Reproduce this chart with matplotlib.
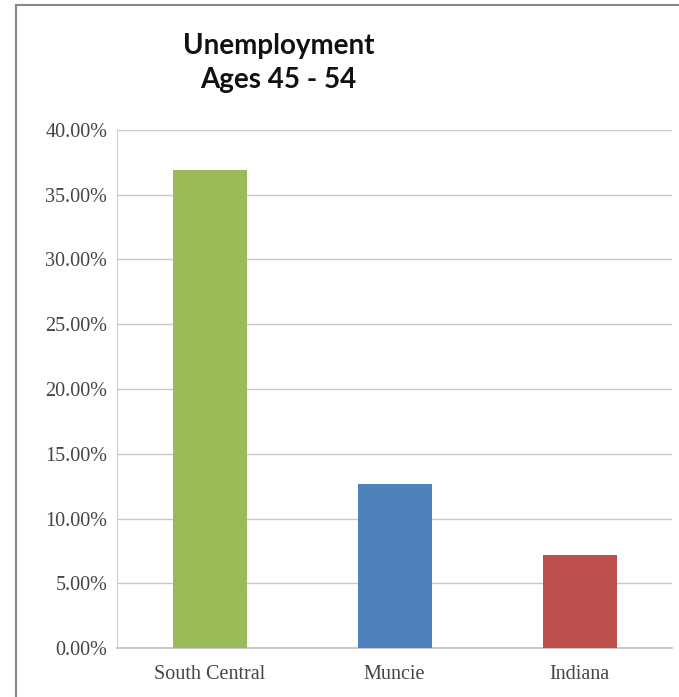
import matplotlib
matplotlib.use("Agg")
import matplotlib.pyplot as plt
from matplotlib.ticker import FuncFormatter, MultipleLocator
from matplotlib.lines import Line2D

categories = ["South Central", "Muncie", "Indiana"]
values = [36.9, 12.7, 7.2]
colors = ["#9BBB59", "#4F81BD", "#C0504D"]
title = "Unemployment\nAges 45 - 54"

fig = plt.figure(figsize=(6.79, 6.97), dpi=100)
ax = fig.add_axes([117/679, 1-648/697, (672-117)/679, (648-130)/697])

x = range(len(categories))
ax.bar(x, values, width=0.4, color=colors, zorder=3)
ax.set_xlim(-0.5, 2.5)
ax.set_ylim(0, 40)
ax.yaxis.set_major_locator(MultipleLocator(5))
ax.yaxis.set_major_formatter(FuncFormatter(lambda v, p: f"{v:.2f}%"))
ax.set_xticks(list(x))
ax.set_xticklabels(categories)
ax.grid(axis="y", color="#c8c8c8", linewidth=1.0, zorder=0)
for s in ["top", "right"]:
    ax.spines[s].set_visible(False)
ax.spines["left"].set_color("#d0d0d0")
ax.spines["bottom"].set_color("#c0c0c0")
ax.spines["bottom"].set_linewidth(1.2)
ax.tick_params(axis="both", length=0, labelsize=14.5, labelcolor="#444444",
               labelfontfamily="Liberation Serif")
ax.tick_params(axis="y", pad=7)
ax.tick_params(axis="x", pad=12)

fig.text(0.41, 1-63/697, title, ha="center", va="center", fontsize=20,
         fontweight="bold", family="Lato", linespacing=1.35, color="#111111")

# outer chart frame
fig.add_artist(Line2D([16/679, 16/679], [0, 1-5/697], color="#888888", lw=1.5,
                      transform=fig.transFigure))
fig.add_artist(Line2D([16/679, 1], [1-5/697, 1-5/697], color="#888888", lw=1.5,
                      transform=fig.transFigure))

fig.savefig("out.png", dpi=100)
